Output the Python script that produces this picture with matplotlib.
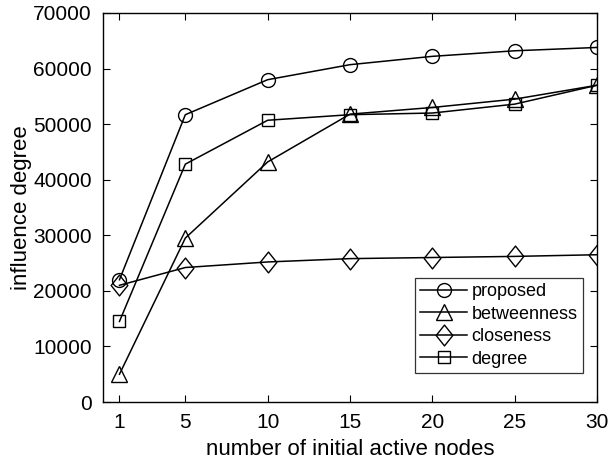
import matplotlib
matplotlib.use("Agg")
import matplotlib.pyplot as plt
from matplotlib.path import Path

plt.rcParams.update({
    "font.family": ["Liberation Sans", "DejaVu Sans"],
    "xtick.direction": "in",
    "ytick.direction": "in",
    "xtick.top": True,
    "ytick.right": True,
})

nodes = [1, 5, 10, 15, 20, 25, 30]
proposed = [22000, 51700, 58000, 60700, 62200, 63200, 63800]
betweenness = [5000, 29500, 43200, 51800, 53000, 54500, 57000]
closeness = [21000, 24200, 25200, 25800, 26000, 26200, 26500]
degree = [14500, 42800, 50700, 51700, 52000, 53600, 57000]

diamond = Path([(0, 1), (0.8, 0), (0, -1), (-0.8, 0), (0, 1)],
               [Path.MOVETO, Path.LINETO, Path.LINETO, Path.LINETO, Path.CLOSEPOLY])

series = [
    ("proposed", proposed, "o", 10),
    ("betweenness", betweenness, "^", 11),
    ("closeness", closeness, diamond, 15),
    ("degree", degree, "s", 8),
]

fig = plt.figure(figsize=(6.08, 4.61), dpi=100)
ax = fig.add_axes([103 / 608, 1 - 402 / 461, (597 - 103) / 608, (402 - 13) / 461])

for name, vals, mk, ms in series:
    ax.plot(nodes, vals, color="black", linewidth=1.1, marker=mk,
            markersize=ms, markerfacecolor="none", markeredgecolor="black",
            markeredgewidth=1.0, label=name)

ax.set_xlim(0, 30)
ax.set_ylim(0, 70000)
ax.set_xticks(nodes)
ax.set_yticks(range(0, 70001, 10000))
ax.tick_params(labelsize=15, length=5, width=0.8, pad=8)
for s in ax.spines.values():
    s.set_linewidth(1.0)

ax.set_xlabel("number of initial active nodes", fontsize=16, labelpad=5)
ax.set_ylabel("influence degree", fontsize=16, labelpad=1)

leg = ax.legend(loc="lower right", bbox_to_anchor=(0.9717, 0.0746),
                fontsize=13, frameon=True, fancybox=False,
                edgecolor="black", handlelength=2.6, handletextpad=0.25,
                borderpad=0.3, labelspacing=0.3, borderaxespad=0)
leg.get_frame().set_linewidth(0.9)

fig.savefig("out.png", dpi=100)
